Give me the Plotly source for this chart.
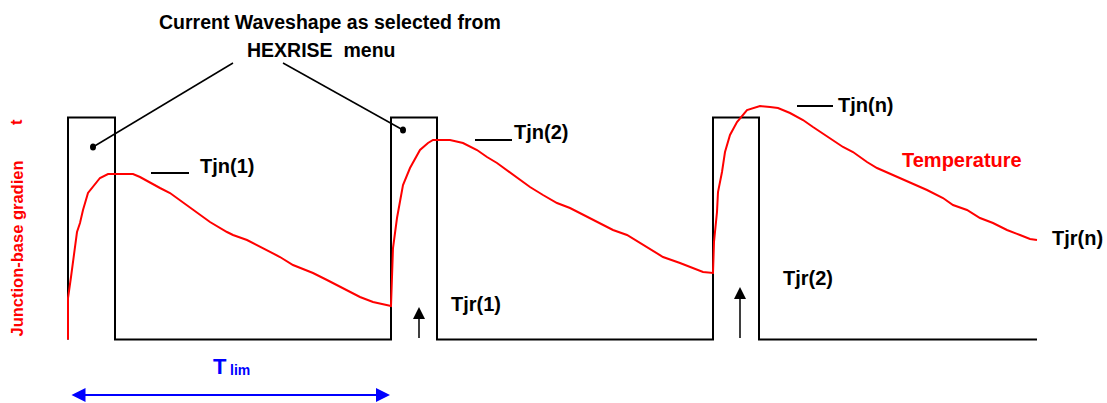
import plotly.graph_objects as go

# Current waveform: three rectangular pulses on a common time base
current_t = [68, 68, 115, 115, 391, 391, 437, 437, 713, 713, 759, 759, 1037]
current_i = [0, 222, 222, 0, 0, 222, 222, 0, 0, 222, 222, 0, 0]

# Junction-base temperature gradient response to the pulses
temp_t = [68, 68, 71, 73, 75, 77, 80, 83, 88, 93, 100, 108, 133, 140, 147, 160, 170, 177,
          187, 197, 210, 227, 233, 247, 260, 280, 293, 313, 327, 343, 360, 373, 385, 391,
          392, 393, 397, 400, 403, 410, 420, 428, 433, 450, 463, 477, 487, 497,
          513, 530, 543, 557, 570, 580, 597, 613, 627, 640, 663, 680, 693, 703, 713,
          714, 717, 718, 722, 725, 730, 737, 747, 760, 770, 778, 790, 803, 813, 830,
          843, 853, 867, 877, 893, 910, 927, 943, 953, 967, 980, 993, 1007, 1020,
          1030, 1037]
temp_v = [0, 41.5, 62.5, 79.5, 92.5, 107.5, 116.5, 129.5, 146.5, 152.5, 161.5, 165.5, 165.5,
          162.5, 158.5, 151.5, 146.5, 141.5,
          134.5, 127.5, 117.5, 107.5, 104.5, 99.5, 92.5, 82.5, 74.5, 66.5, 59.5, 51.5,
          42.5, 37.5, 34.5, 33.5,
          62.5, 91.5, 121.5, 137.5, 154.5, 171.5, 189.5, 196.5, 199.5, 199.5, 196.5, 189.5,
          182.5, 176.5,
          164.5, 152.5, 144.5, 136.5, 131.5, 126.5, 117.5, 109.5, 104.5, 96.5, 82.5, 76.5,
          71.5, 67.5, 66.5,
          97.5, 127.5, 147.5, 167.5, 187.5, 204.5, 217.5, 229.5, 233.5, 232.5, 231.5,
          226.5, 219.5, 212.5, 201.5,
          192.5, 187.5, 177.5, 171.5, 164.5, 157.5, 149.5, 141.5, 134.5, 129.5, 121.5,
          116.5, 109.5, 104.5, 100.5, 99.5]

FONT = "Liberation Sans, Arial, sans-serif"
BLACK = "#000000"
RED = "#ff0000"
BLUE = "#0000ff"

fig = go.Figure()

fig.add_trace(go.Scatter(x=current_t, y=current_i, mode="lines",
                         line=dict(color=BLACK, width=2), hoverinfo="skip"))
fig.add_trace(go.Scatter(x=temp_t, y=temp_v, mode="lines",
                         line=dict(color=RED, width=2), hoverinfo="skip"))

shapes = []
# leader lines from the caption to the pulses
for x0, y0, x1, y1 in [(233, 276.5, 93, 192.5), (283, 276.5, 403, 209.5)]:
    shapes.append(dict(type="line", x0=x0, y0=y0, x1=x1, y1=y1,
                       line=dict(color=BLACK, width=1.5)))
for cx, cy in [(93, 192.5), (403, 209.5)]:
    shapes.append(dict(type="circle", x0=cx - 3, x1=cx + 3, y0=cy - 3.5, y1=cy + 3.5,
                       fillcolor=BLACK, line=dict(color=BLACK, width=0)))
# short tick marks next to the peak labels
for x0, x1, y in [(151, 189, 166.5), (475, 512, 199.5), (797, 833, 233.5)]:
    shapes.append(dict(type="line", x0=x0, x1=x1, y0=y, y1=y,
                       line=dict(color=BLACK, width=2)))

annotations = []


def label(text, x, y, size=20, color=BLACK, xanchor="left", angle=0):
    annotations.append(dict(text=text, x=x, y=y, xref="x", yref="y", showarrow=False,
                            xanchor=xanchor, yanchor="middle", textangle=angle,
                            font=dict(family=FONT, size=size, color=color, weight="bold")))


label("Current Waveshape as selected from", 330, 317.5, size=19.5, xanchor="center")
label("HEXRISE  menu", 321, 289.5, size=19.5, xanchor="center")
label("Tjn(1)", 198, 173.5)
label("Tjn(2)", 512, 207.5)
label("Tjn(n)", 836, 234.5)
label("Temperature", 900, 179.5, color=RED)
label("Tjr(1)", 449, 35.5)
label("Tjr(2)", 781, 61.5)
label("Tjr(n)", 1050, 101.5)
label("Junction-base gradien", 16, 91, size=16.5, color=RED, xanchor="center", angle=-90)
label("t", 16, 217.5, size=16.5, color=RED, xanchor="center", angle=-90)
label("T", 211, -26.5, size=22, color=BLUE)
label("lim", 228, -30, size=14, color=BLUE)

# upward arrows marking the sampling instants
for x, tip in [(419, 32.5), (740, 52.5)]:
    annotations.append(dict(text="", x=x, y=tip, ax=x, ay=0, xref="x", yref="y",
                            axref="x", ayref="y", showarrow=True, arrowhead=2,
                            arrowsize=1.6, arrowwidth=1.5, arrowcolor=BLACK))
# pulse period span
annotations.append(dict(text="", x=390, y=-55.5, ax=70, ay=-55.5, xref="x", yref="y",
                        axref="x", ayref="y", showarrow=True, arrowhead=2,
                        arrowside="end+start", arrowsize=1.4, arrowwidth=2,
                        arrowcolor=BLUE))

fig.update_layout(
    width=1107, height=403,
    margin=dict(l=0, r=0, t=0, b=0),
    paper_bgcolor="white", plot_bgcolor="white",
    showlegend=False,
    xaxis=dict(range=[0, 1107], visible=False, fixedrange=True),
    yaxis=dict(range=[-63.5, 339.5], visible=False, fixedrange=True),
    shapes=shapes, annotations=annotations,
)

fig.write_html("out.html")
